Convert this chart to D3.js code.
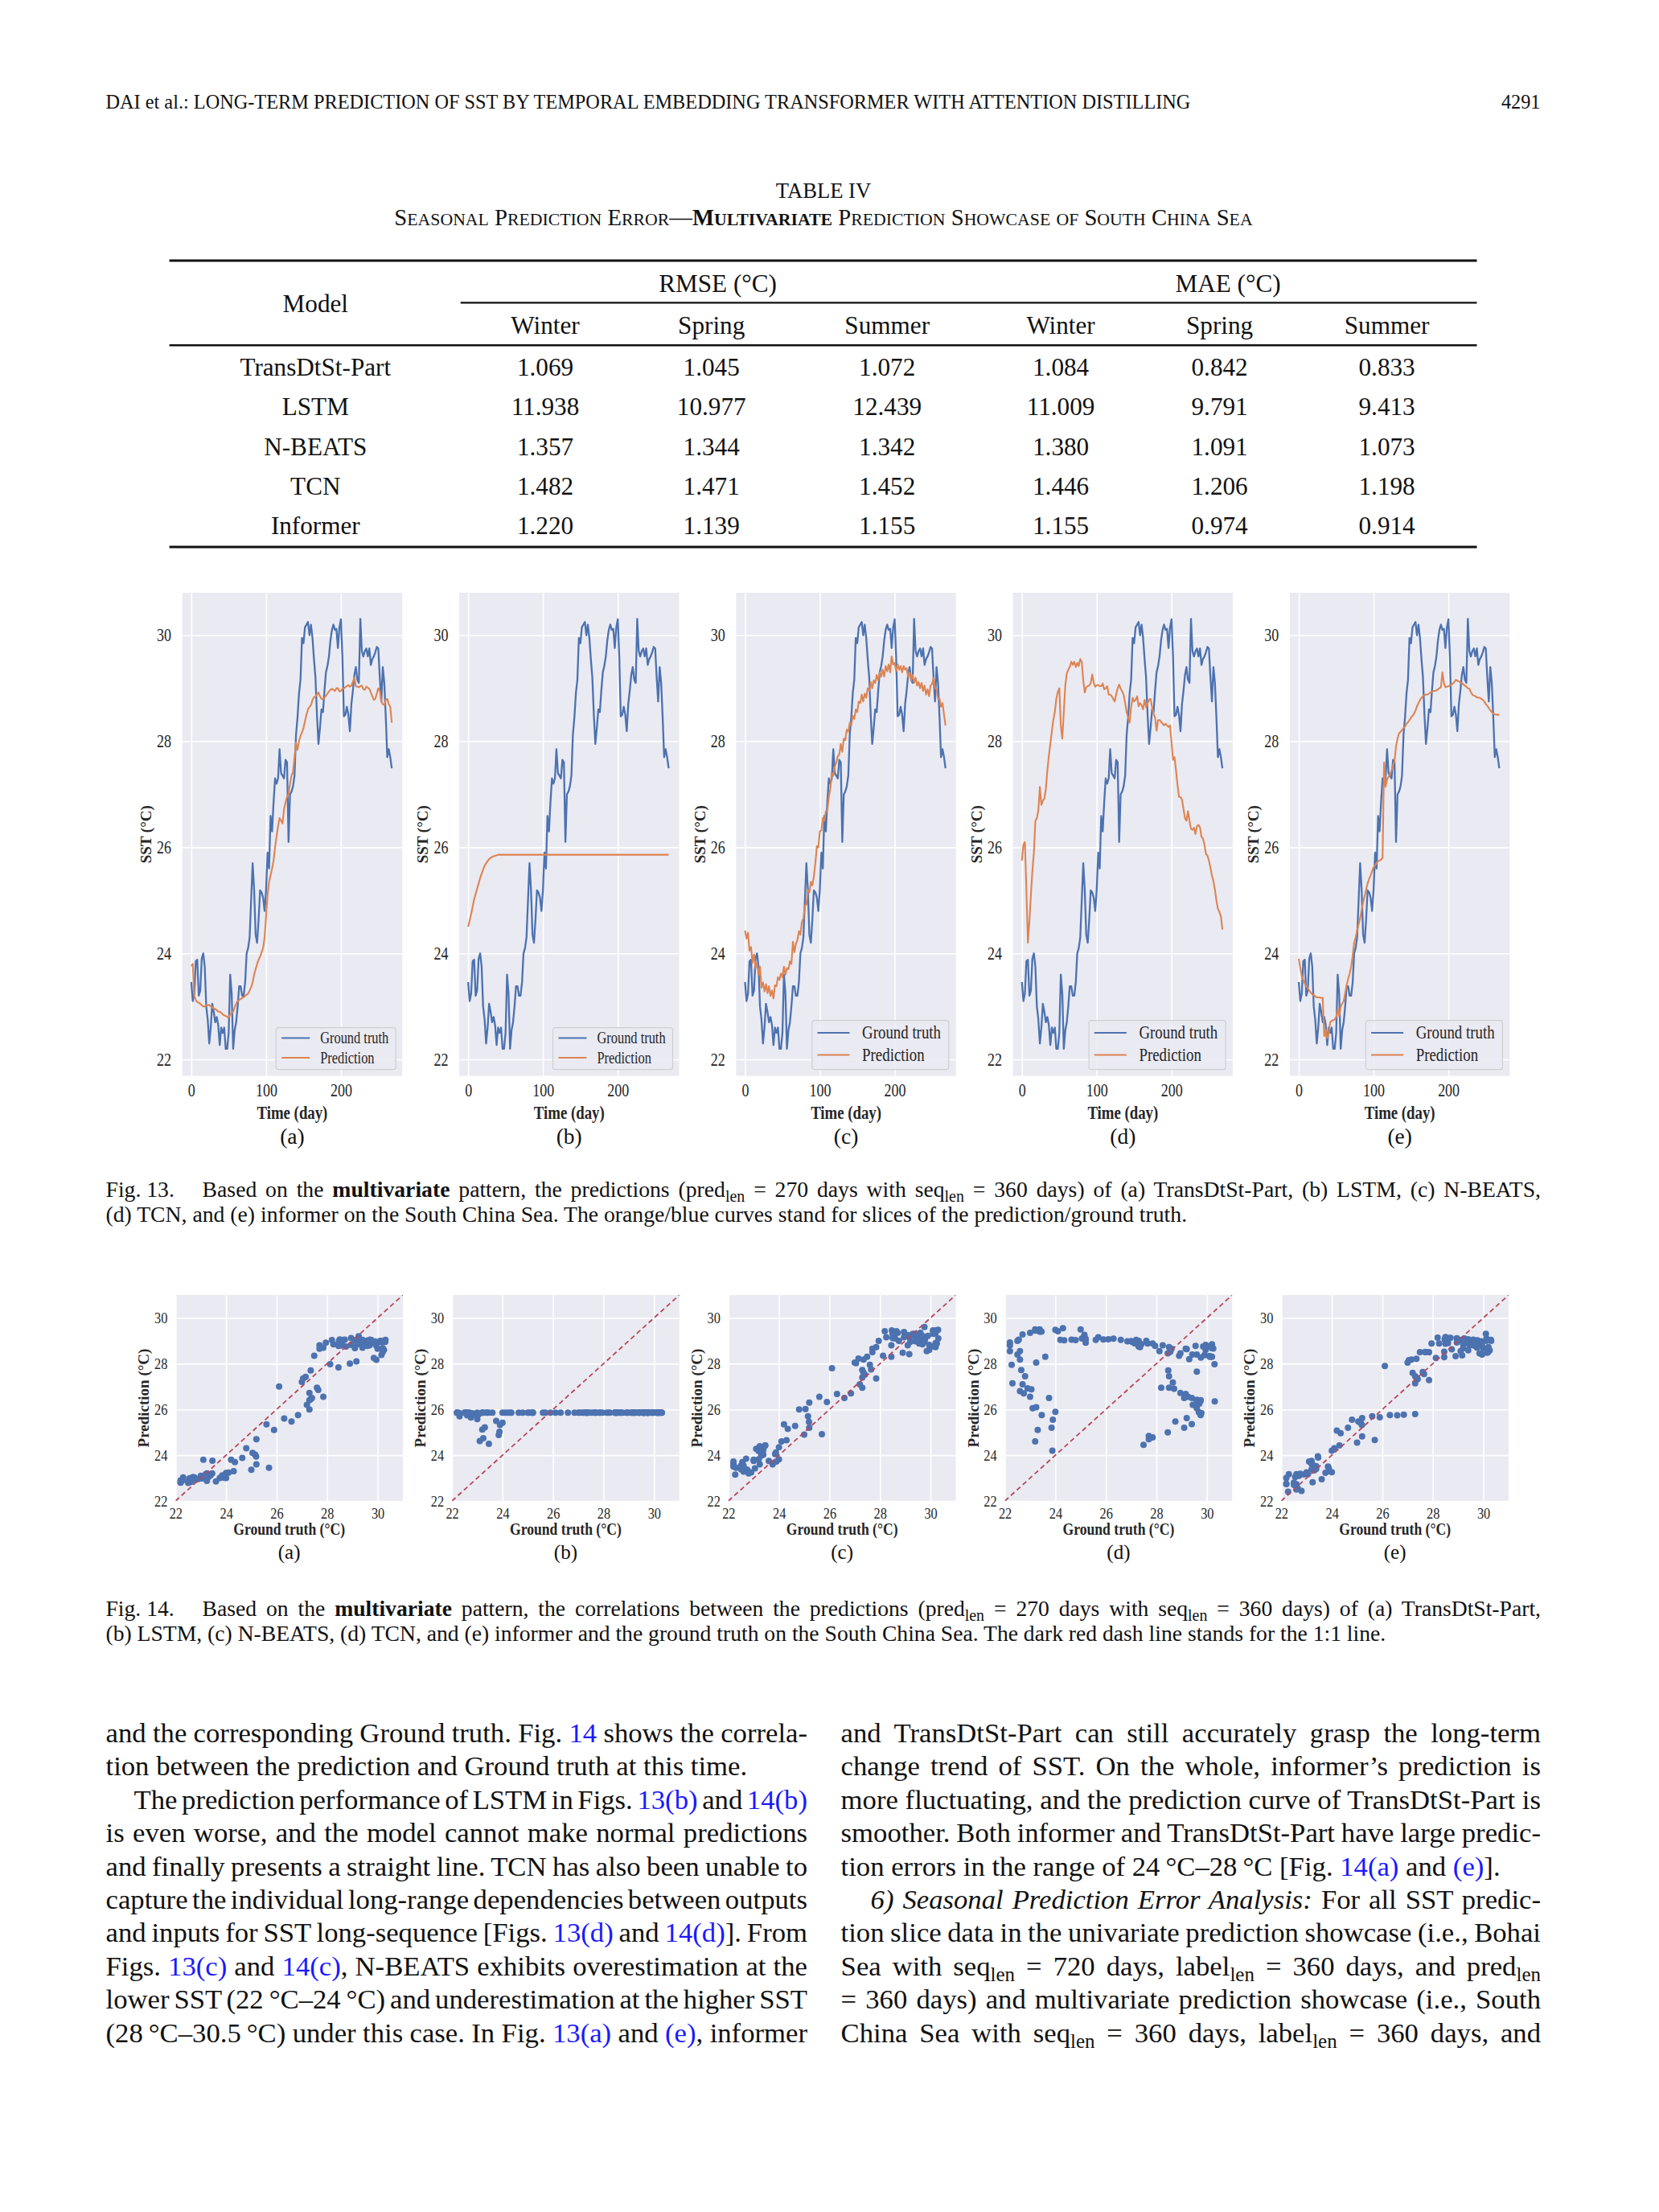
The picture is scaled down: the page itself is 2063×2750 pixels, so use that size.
<!DOCTYPE html>
<html>
<head>
<meta charset="utf-8">
<script src="https://cdn.jsdelivr.net/npm/d3@7"></script>
<style>
  body { margin: 0; background: #fff; }
  svg { display: block; }
  text { white-space: pre; }
</style>
</head>
<body>
<svg id="page" width="2063" height="2750"></svg>
<script>
// ---------- page text ----------
const runningHead = "DAI et al.: LONG-TERM PREDICTION OF SST BY TEMPORAL EMBEDDING TRANSFORMER WITH ATTENTION DISTILLING";
const pageNo = "4291";
const tableNo = "TABLE IV";
const tableTitle = [["Seasonal Prediction Error\u2014", false], ["Multivariate", true], [" Prediction Showcase of South China Sea", false]];

// ---------- table IV ----------
const models = ["TransDtSt-Part", "LSTM", "N-BEATS", "TCN", "Informer"];
const seasons = ["Winter", "Spring", "Summer"];
const metricGroups = ["RMSE (\u00b0C)", "MAE (\u00b0C)"];
const rmse = [[1.069, 1.045, 1.072], [11.938, 10.977, 12.439], [1.357, 1.344, 1.342], [1.482, 1.471, 1.452], [1.220, 1.139, 1.155]];
const mae = [[1.084, 0.842, 0.833], [11.009, 9.791, 9.413], [1.380, 1.091, 1.073], [1.446, 1.206, 1.198], [1.155, 0.974, 0.914]];

// ---------- fig 13 / 14 series (read every 2 days) ----------
const days = [0,2,4,6,8,10,12,14,16,18,20,22,24,26,28,30,32,34,36,38,40,42,44,46,48,50,52,54,56,58,60,62,64,66,68,70,72,74,76,78,80,82,84,86,88,90,92,94,96,98,100,102,104,106,108,110,112,114,116,118,120,122,124,126,128,130,132,134,136,138,140,142,144,146,148,150,152,154,156,158,160,162,164,166,168,170,172,174,176,178,180,182,184,186,188,190,192,194,196,198,200,202,204,206,208,210,212,214,216,218,220,222,224,226,228,230,232,234,236,238,240,242,244,246,248,250,252,254,256,258,260,262,264,266,268];

const groundTruth = [
  23.46,23.1,23.24,23.85,23.88,23.2,23.3,23.9,24.0,23.75,
  23.0,22.75,22.3,22.6,23.05,22.9,22.7,22.8,22.65,22.27,
  22.6,22.5,22.6,22.2,22.2,22.5,23.6,23.24,22.2,22.55,
  22.7,23.0,23.38,23.38,23.2,23.2,23.45,24.0,24.1,24.3,
  25.0,25.7,25.2,24.35,24.2,24.64,25.19,25.15,25.05,24.8,
  25.2,25.9,25.6,26.59,26.3,26.85,27.3,27.2,27.3,27.85,
  27.4,27.35,27.3,27.65,27.6,26.1,27.0,27.05,27.15,27.35,
  28.12,28.45,28.9,29.16,29.95,29.85,30.15,30.2,30.25,30.0,
  30.2,29.95,29.55,29.2,28.5,27.95,28.25,28.6,28.55,28.95,
  29.3,29.42,29.6,29.9,30.1,30.2,30.1,30.12,29.76,30.15,
  30.3,29.6,28.47,28.5,28.65,28.5,28.19,28.7,28.95,29.25,
  29.4,29.16,29.1,30.31,29.7,29.6,29.7,29.75,29.6,29.75,
  29.44,29.55,29.6,29.68,29.78,29.75,29.2,28.75,29.4,29.1,
  28.45,27.7,27.85,27.7,27.49];

const predTransDtSt = [
  23.76,23.8,23.2,23.12,23.08,23.07,23.05,23.02,23.0,23.0,
  23.02,23.02,23.03,23.0,22.98,22.96,22.95,22.93,22.9,22.9,
  22.88,22.85,22.83,22.82,22.8,22.79,22.85,22.88,22.9,22.98,
  23.05,23.1,23.12,23.14,23.16,23.17,23.2,23.22,23.24,23.3,
  23.36,23.45,23.6,23.7,23.8,23.88,23.94,24.02,24.1,24.3,
  24.7,25.1,25.35,25.47,25.6,25.75,26.0,26.2,26.4,26.55,
  26.5,26.45,26.72,26.85,26.95,27.0,27.2,27.35,27.42,27.7,
  27.98,27.84,28.0,28.1,28.17,28.25,28.38,28.5,28.6,28.65,
  28.68,28.78,28.83,28.85,28.88,28.92,28.85,28.8,28.8,28.82,
  28.86,28.9,28.94,28.97,28.99,28.97,28.95,29.0,29.0,28.94,
  28.95,28.99,29.0,29.02,29.04,29.06,29.03,29.05,29.12,29.2,
  29.04,29.03,29.02,29.04,29.05,28.98,28.97,29.03,29.01,28.99,
  28.92,28.85,28.78,28.8,28.9,29.0,28.95,28.75,28.7,28.68,
  28.78,28.8,28.7,28.65,28.35];

const predLSTM = [
  24.5,24.62,24.74,24.88,25.02,25.12,25.22,25.32,25.42,25.5,
  25.58,25.65,25.7,25.74,25.78,25.8,25.82,25.83,25.84,25.85,
  25.86,25.86,25.86,25.86,25.86,25.86,25.86,25.86,25.86,25.86,
  25.86,25.86,25.86,25.86,25.86,25.86,25.86,25.86,25.86,25.86,
  25.86,25.86,25.86,25.86,25.86,25.86,25.86,25.86,25.86,25.86,
  25.86,25.86,25.86,25.86,25.86,25.86,25.86,25.86,25.86,25.86,
  25.86,25.86,25.86,25.86,25.86,25.86,25.86,25.86,25.86,25.86,
  25.86,25.86,25.86,25.86,25.86,25.86,25.86,25.86,25.86,25.86,
  25.86,25.86,25.86,25.86,25.86,25.86,25.86,25.86,25.86,25.86,
  25.86,25.86,25.86,25.86,25.86,25.86,25.86,25.86,25.86,25.86,
  25.86,25.86,25.86,25.86,25.86,25.86,25.86,25.86,25.86,25.86,
  25.86,25.86,25.86,25.86,25.86,25.86,25.86,25.86,25.86,25.86,
  25.86,25.86,25.86,25.86,25.86,25.86,25.86,25.86,25.86,25.86,
  25.86,25.86,25.86,25.86,25.86];

const predNBEATS = [
  24.43,24.28,24.39,24.05,24.12,23.82,23.98,23.72,23.82,23.6,
  23.75,23.35,23.45,23.28,23.42,23.25,23.38,23.2,23.3,23.15,
  23.4,23.38,23.55,23.5,23.62,23.55,23.75,23.6,23.72,23.7,
  23.85,23.8,24.22,24.02,24.18,24.25,24.42,24.35,24.6,24.65,
  24.9,24.92,25.2,25.15,25.35,25.28,25.45,25.7,26.02,26.0,
  26.3,26.32,26.55,26.5,26.68,26.7,26.95,27.1,27.4,27.35,
  27.52,27.6,27.72,27.75,27.95,27.8,28.05,28.02,28.22,28.18,
  28.35,28.3,28.48,28.42,28.6,28.55,28.75,28.72,28.88,28.75,
  28.9,28.82,29.0,28.95,29.12,29.0,29.15,29.1,29.25,29.15,
  29.3,29.22,29.35,29.22,29.42,29.32,29.45,29.3,29.6,29.45,
  29.48,29.32,29.45,29.35,29.42,29.3,29.42,29.35,29.38,29.22,
  29.3,29.15,29.25,29.1,29.2,29.05,29.12,29.0,29.1,28.95,
  29.05,28.88,28.98,28.85,29.05,29.08,29.2,29.0,28.98,28.8,
  28.8,28.65,28.72,28.5,28.3];

const predTCN = [
  25.75,26.05,26.1,25.2,24.2,24.6,25.1,25.55,25.89,26.5,
  26.55,26.7,27.14,26.8,26.88,26.92,27.1,27.45,27.72,27.95,
  28.18,28.4,28.55,28.8,28.93,29.0,28.3,28.05,28.55,29.05,
  29.28,29.35,29.4,29.5,29.44,29.5,29.4,29.48,29.42,29.55,
  29.5,29.15,28.92,29.02,29.04,29.05,29.1,29.26,29.1,29.03,
  29.06,29.06,29.04,29.04,29.09,28.98,29.0,29.04,28.88,28.88,
  28.85,28.8,28.75,28.88,29.0,29.07,28.99,28.94,28.88,28.72,
  28.55,28.45,28.35,28.65,28.82,28.75,28.78,28.85,28.66,28.72,
  28.68,28.6,28.78,28.64,28.72,28.78,28.8,28.65,28.52,28.45,
  28.2,28.4,28.4,28.37,28.33,28.3,28.33,28.3,28.27,28.3,
  27.98,27.65,27.7,27.45,27.18,26.95,26.95,26.9,26.72,26.55,
  26.5,26.68,26.5,26.35,26.33,26.37,26.25,26.4,26.42,26.38,
  26.2,26.17,26.05,25.88,25.84,25.75,25.62,25.47,25.36,25.2,
  25.0,24.84,24.78,24.7,24.45];

const predInformer = [
  23.9,23.72,23.58,23.5,23.43,23.38,23.34,23.3,23.26,23.23,
  23.21,23.19,23.17,23.17,23.17,23.16,23.16,22.44,22.55,22.4,
  22.5,22.7,22.73,22.74,22.75,22.8,22.95,22.82,23.0,23.05,
  23.1,23.25,23.4,23.52,23.62,23.75,23.95,24.2,24.3,24.43,
  24.55,24.66,24.82,24.96,25.08,25.2,25.32,25.4,25.47,25.55,
  25.62,25.66,25.7,25.74,25.75,25.77,25.8,27.6,27.14,27.28,
  27.33,27.38,27.45,27.55,27.63,27.9,28.05,28.15,28.18,28.21,
  28.25,28.28,28.33,28.36,28.4,28.45,28.48,28.52,28.58,28.66,
  28.72,28.78,28.82,28.85,28.87,28.88,28.88,28.9,28.92,28.93,
  28.95,28.95,28.96,28.98,29.0,29.02,29.3,29.1,29.02,29.03,
  29.04,29.05,29.07,29.09,29.12,29.16,29.14,29.13,29.11,29.1,
  29.07,29.05,29.03,29.0,28.99,28.93,28.88,28.86,28.85,28.83,
  28.82,28.82,28.8,28.78,28.75,28.7,28.67,28.63,28.58,28.55,
  28.52,28.51,28.5,28.5,28.5];

const predictions = [predTransDtSt, predLSTM, predNBEATS, predTCN, predInformer];
const panelLabels = ["(a)", "(b)", "(c)", "(d)", "(e)"];
const seriesNames = ["Ground truth", "Prediction"];
const dayTicks = [0, 100, 200];
const sstTicks = [22, 24, 26, 28, 30];
const corrTicks = [22, 24, 26, 28, 30];
const oneToOne = [22, 31];

// ---------- captions and body ----------
const caption13 = ["Fig. 13.", "Based on the {b:multivariate} pattern, the predictions (pred{s:len} = 270 days with seq{s:len} = 360 days) of (a) TransDtSt-Part, (b) LSTM, (c) N-BEATS,",
  "(d) TCN, and (e) informer on the South China Sea. The orange/blue curves stand for slices of the prediction/ground truth."];
const caption14 = ["Fig. 14.", "Based on the {b:multivariate} pattern, the correlations between the predictions (pred{s:len} = 270 days with seq{s:len} = 360 days) of (a) TransDtSt-Part,",
  "(b) LSTM, (c) N-BEATS, (d) TCN, and (e) informer and the ground truth on the South China Sea. The dark red dash line stands for the 1:1 line."];

// [text, justify, indent]
const bodyLeft = [
  ["and the corresponding Ground truth. Fig. {l:14} shows the correla-", true, false],
  ["tion between the prediction and Ground truth at this time.", false, false],
  ["The prediction performance of LSTM in Figs. {l:13(b)} and {l:14(b)}", true, true],
  ["is even worse, and the model cannot make normal predictions", true, false],
  ["and finally presents a straight line. TCN has also been unable to", true, false],
  ["capture the individual long-range dependencies between outputs", true, false],
  ["and inputs for SST long-sequence [Figs. {l:13(d)} and {l:14(d)}]. From", true, false],
  ["Figs. {l:13(c)} and {l:14(c)}, N-BEATS exhibits overestimation at the", true, false],
  ["lower SST (22\u2009\u00b0C\u201324\u2009\u00b0C) and underestimation at the higher SST", true, false],
  ["(28\u2009\u00b0C\u201330.5\u2009\u00b0C) under this case. In Fig. {l:13(a)} and {l:(e)}, informer", true, false]
];
const bodyRight = [
  ["and TransDtSt-Part can still accurately grasp the long-term", true, false],
  ["change trend of SST. On the whole, informer\u2019s prediction is", true, false],
  ["more fluctuating, and the prediction curve of TransDtSt-Part is", true, false],
  ["smoother. Both informer and TransDtSt-Part have large predic-", true, false],
  ["tion errors in the range of 24\u2009\u00b0C\u201328\u2009\u00b0C [Fig. {l:14(a)} and {l:(e)}].", false, false],
  ["{i:6) Seasonal Prediction Error Analysis:} For all SST predic-", true, true],
  ["tion slice data in the univariate prediction showcase (i.e., Bohai", true, false],
  ["Sea with seq{s:len} = 720 days, label{s:len} = 360 days, and pred{s:len}", true, false],
  ["= 360 days) and multivariate prediction showcase (i.e., South", true, false],
  ["China Sea with seq{s:len} = 360 days, label{s:len} = 360 days, and", true, false]
];

// ---------- styling ----------
const serif = '"Liberation Serif", "Times New Roman", serif';
const ink = "#111";
const linkBlue = "#1a1aff";
const bg = "#eaeaf2";
const blue = "#4c72b0";
const orange = "#dd8452";
const diagRed = "#b9475a";
const textLeft = 131.5, textRight = 1916;

const svg = d3.select("#page").attr("font-family", serif);
svg.append("rect").attr("width", 2063).attr("height", 2750).attr("fill", "#fff");

function fitFont(sel, fs, target) {
  const w = sel.node().getComputedTextLength();
  const nf = fs * target / w;
  sel.attr("font-size", nf);
  return nf;
}

function richText(parent, x, y, str, fs) {
  const t = parent.append("text").attr("x", x).attr("y", y).attr("font-size", fs).attr("fill", ink);
  const re = /\{(\w):([^}]*)\}/g;
  let last = 0, m, shift = 0;
  const add = (txt, kind) => {
    const sp = t.append("tspan").text(txt);
    if (shift && kind !== "s") { sp.attr("dy", -shift); shift = 0; }
    if (kind === "b") sp.attr("font-weight", "bold");
    if (kind === "i") sp.attr("font-style", "italic");
    if (kind === "l") sp.attr("fill", linkBlue);
    if (kind === "s") { shift = fs * 0.22; sp.attr("font-size", fs * 0.72).attr("dy", shift); }
  };
  while ((m = re.exec(str)) !== null) {
    if (m.index > last) add(str.slice(last, m.index), "");
    add(m[2], m[1]);
    last = re.lastIndex;
  }
  if (last < str.length) add(str.slice(last), "");
  return t;
}

function justify(sel, width) {
  const n = sel.node();
  const w = n.getComputedTextLength();
  const spaces = (n.textContent.match(/ /g) || []).length;
  if (spaces) sel.attr("word-spacing", (width - w) / spaces);
}

// squeezed text (the figures were placed narrower than drawn)
function sq(parent, x, y, str, fs, sx, anchor, weight) {
  return parent.append("text")
    .attr("transform", `translate(${x},${y}) scale(${sx},1)`)
    .attr("font-size", fs).attr("text-anchor", anchor || "middle")
    .attr("font-weight", weight || "normal").attr("fill", "#262626").text(str);
}

// ---------- running head ----------
const head = svg.append("text").attr("x", textLeft).attr("y", 134.5).attr("font-size", 23).attr("fill", ink).text(runningHead);
const headFs = fitFont(head, 23, 1349.5);
svg.append("text").attr("x", 1915.5).attr("y", 134.5).attr("text-anchor", "end").attr("font-size", headFs).attr("fill", ink).text(pageNo);

// ---------- table ----------
const tableCx = 1024;
const tNo = svg.append("text").attr("x", tableCx).attr("y", 246).attr("text-anchor", "middle").attr("font-size", 27).attr("fill", ink).text(tableNo);
fitFont(tNo, 27, 118.5);

function smallCaps(fs) {
  const t = svg.append("text").attr("x", tableCx).attr("y", 280).attr("text-anchor", "middle").attr("fill", ink);
  tableTitle.forEach(([str, bold]) => {
    const runs = str.match(/[a-z]+|[^a-z]+/g);
    runs.forEach(r => {
      const lower = /^[a-z]/.test(r);
      const sp = t.append("tspan").text(lower ? r.toUpperCase() : r).attr("font-size", lower ? fs * 0.76 : fs);
      if (bold) sp.attr("font-weight", "bold");
    });
  });
  return t;
}
const probeSub = smallCaps(27);
const subW = probeSub.node().getComputedTextLength();
probeSub.remove();
smallCaps(27 * 1068 / subW);

const tFs = 31.2;
const colX = [392.3, 678, 884.7, 1103.2, 1319.1, 1516.6, 1724.6];
const groupX = [892.6, 1527.1];
const rowY = [466.5, 516.3, 566, 615, 663.7];
const fmt = d3.format(".3f");
const rule = (x1, x2, y, w) => svg.append("line").attr("x1", x1).attr("x2", x2).attr("y1", y).attr("y2", y).attr("stroke", ink).attr("stroke-width", w);
rule(210.6, 1836.5, 324, 2.8);
rule(572.7, 1836.5, 376.4, 2.2);
rule(210.6, 1836.5, 429.3, 2.6);
rule(210.6, 1836.5, 680, 3.2);
const cell = (x, y, s) => svg.append("text").attr("x", x).attr("y", y).attr("text-anchor", "middle").attr("font-size", tFs).attr("fill", ink).text(s);
cell(colX[0], 388, "Model");
metricGroups.forEach((g, i) => cell(groupX[i], 363, g));
[...seasons, ...seasons].forEach((s, i) => cell(colX[i + 1], 415, s));
models.forEach((m, r) => {
  cell(colX[0], rowY[r], m);
  [...rmse[r], ...mae[r]].forEach((v, c) => cell(colX[c + 1], rowY[r], fmt(v)));
});

// ---------- fig 13 ----------
const f13 = { left: 226.7, step: 344.3, w: 273.5, top: 737, h: 600.5 };
const dayDomain = [-12, 282];
const sstDomain = [21.69, 30.8];

function gridLines(s) {
  s.select(".domain").remove();
  s.selectAll("line").attr("stroke", "#fff").attr("stroke-width", 1.6);
}
function tickText(s, fs, sx) {
  s.attr("font-family", serif).attr("font-size", fs);
  s.select(".domain").remove();
  s.selectAll(".tick line").remove();
  s.selectAll("text").attr("fill", "#262626").attr("transform", `scale(${sx},1)`);
}

predictions.forEach((pred, i) => {
  const L = f13.left + i * f13.step, W = f13.w, H = f13.h;
  const g = svg.append("g").attr("transform", `translate(${L},${f13.top})`);
  const x = d3.scaleLinear().domain(dayDomain).range([0, W]);
  const y = d3.scaleLinear().domain(sstDomain).range([H, 0]);
  g.append("rect").attr("width", W).attr("height", H).attr("fill", bg);
  g.append("g").attr("transform", `translate(0,${H})`)
    .call(d3.axisBottom(x).tickValues(dayTicks).tickSize(-H).tickFormat("")).call(gridLines);
  g.append("g").call(d3.axisLeft(y).tickValues(sstTicks).tickSize(-W).tickFormat("")).call(gridLines);

  const line = d3.line().x((d, j) => x(days[j])).y(d => y(d));
  g.append("path").datum(groundTruth).attr("d", line).attr("fill", "none").attr("stroke", blue).attr("stroke-width", 2.3).attr("stroke-linejoin", "round");
  g.append("path").datum(pred).attr("d", line).attr("fill", "none").attr("stroke", orange).attr("stroke-width", 2.1).attr("stroke-linejoin", "round");

  g.append("g").attr("transform", `translate(0,${H})`)
    .call(d3.axisBottom(x).tickValues(dayTicks).tickSize(0).tickPadding(10)).call(s => tickText(s, 22.5, 0.8));
  g.append("g").call(d3.axisLeft(y).tickValues(sstTicks).tickSize(0).tickPadding(17)).call(s => tickText(s, 22.5, 0.8));

  sq(g, W / 2, H + 53, "Time (day)", 23.5, 0.8, "middle", "bold");
  g.append("text").attr("transform", `translate(-38.7,${H / 2}) rotate(-90)`)
    .attr("text-anchor", "middle").attr("font-size", 19).attr("font-weight", "bold").attr("fill", "#262626").text("SST (\u00b0C)");
  g.append("text").attr("x", W / 2).attr("y", H + 84).attr("text-anchor", "middle").attr("font-size", 27.5).attr("fill", ink).text(panelLabels[i]);

  // legend
  const big = i >= 2;
  const fs = big ? 23 : 20, bw = big ? 170 : 149, bh = big ? 61 : 52, m = big ? 9 : 8;
  const lg = g.append("g").attr("transform", `translate(${W - m - bw},${H - 7.8 - bh})`);
  lg.append("rect").attr("width", bw).attr("height", bh).attr("rx", 3).attr("fill", bg).attr("fill-opacity", 0.8)
    .attr("stroke", "#cfcfcf").attr("stroke-width", 1.2);
  const rows = big ? [15.2, 42.7] : [12.9, 37.2];
  const l0 = big ? 6.7 : 7, l1 = big ? 46.7 : 42, tx = big ? 62.3 : 55;
  seriesNames.forEach((nm, k) => {
    lg.append("line").attr("x1", l0).attr("x2", l1).attr("y1", rows[k]).attr("y2", rows[k])
      .attr("stroke", k ? orange : blue).attr("stroke-width", 2);
    sq(lg, tx, rows[k] + 0.33 * fs, nm, fs, 0.82, "start");
  });
});

// ---------- fig 14 ----------
const f14 = { left: 218.3, step: 343.75, w: 282.7, top: 1610, h: 256 };
const corrDomain = [22, 31];

predictions.forEach((pred, i) => {
  const L = f14.left + i * f14.step, W = f14.w, H = f14.h;
  const g = svg.append("g").attr("transform", `translate(${L},${f14.top})`);
  const x = d3.scaleLinear().domain(corrDomain).range([0, W]);
  const y = d3.scaleLinear().domain(corrDomain).range([H, 0]);
  g.append("clipPath").attr("id", "clip14_" + i).append("rect").attr("width", W).attr("height", H);
  g.append("rect").attr("width", W).attr("height", H).attr("fill", bg);
  g.append("g").attr("transform", `translate(0,${H})`)
    .call(d3.axisBottom(x).tickValues(corrTicks).tickSize(-H).tickFormat("")).call(gridLines);
  g.append("g").call(d3.axisLeft(y).tickValues(corrTicks).tickSize(-W).tickFormat("")).call(gridLines);

  const pts = d3.zip(groundTruth, pred);
  const plot = g.append("g").attr("clip-path", `url(#clip14_${i})`);
  plot.selectAll("circle").data(pts).join("circle")
    .attr("cx", d => x(d[0])).attr("cy", d => y(d[1])).attr("r", 4).attr("fill", blue);
  plot.append("line").attr("x1", x(oneToOne[0])).attr("y1", y(oneToOne[0]))
    .attr("x2", x(oneToOne[1])).attr("y2", y(oneToOne[1]))
    .attr("stroke", diagRed).attr("stroke-width", 1.8).attr("stroke-dasharray", "6,4");

  g.append("g").attr("transform", `translate(0,${H})`)
    .call(d3.axisBottom(x).tickValues(corrTicks).tickSize(0).tickPadding(8.5)).call(s => tickText(s, 19, 0.86));
  g.append("g").call(d3.axisLeft(y).tickValues(corrTicks).tickSize(0).tickPadding(11.6)).call(s => tickText(s, 19, 0.86));

  sq(g, W / 2, H + 42, "Ground truth (\u00b0C)", 20.5, 0.86, "middle", "bold");
  g.append("text").attr("transform", `translate(-33,${H / 2}) rotate(-90)`)
    .attr("text-anchor", "middle").attr("font-size", 19).attr("font-weight", "bold").attr("fill", "#262626").text("Prediction (\u00b0C)");
  g.append("text").attr("x", W / 2).attr("y", H + 72).attr("text-anchor", "middle").attr("font-size", 25).attr("fill", ink).text(panelLabels[i]);
});

// ---------- captions ----------
function caption(lines, y1, lastWidth) {
  const probe = richText(svg, textLeft, y1 + 31, lines[2], 28);
  const fs = 28 * lastWidth / probe.node().getComputedTextLength();
  probe.remove();
  svg.append("text").attr("x", textLeft).attr("y", y1).attr("font-size", fs).attr("fill", ink).text(lines[0]);
  const l1 = richText(svg, 251.6, y1, lines[1], fs);
  justify(l1, textRight - 251.6);
  richText(svg, textLeft, y1 + 31, lines[2], fs);
}
caption(caption13, 1488, 1345);
caption(caption14, 2009, 1593);

// ---------- body text ----------
function column(lines, x0, width, y0, indent) {
  const fs = 34.7, lead = 41.4;
  lines.forEach(([str, just, ind], k) => {
    const x = ind ? x0 + indent : x0;
    const t = richText(svg, x, y0 + k * lead, str, fs);
    if (just) justify(t, width - (ind ? indent : 0));
  });
}
column(bodyLeft, textLeft, 1004 - textLeft, 2166, 35);
column(bodyRight, 1045.6, textRight - 1045.6, 2166, 37);
</script>
</body>
</html>
